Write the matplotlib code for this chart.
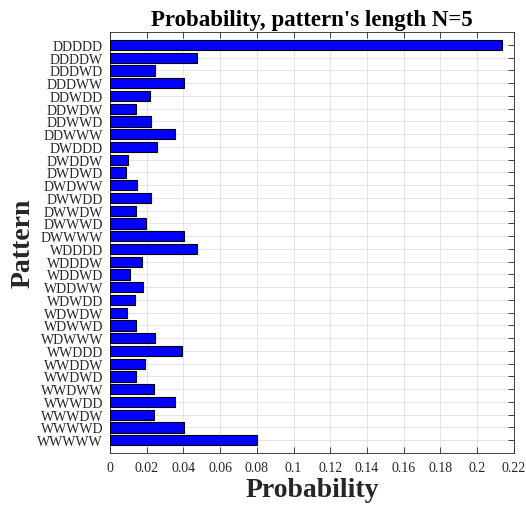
import numpy as np
import matplotlib
matplotlib.use("Agg")
import matplotlib.pyplot as plt

# --- Data ---
patterns = ["DDDDD", "DDDDW", "DDDWD", "DDDWW", "DDWDD", "DDWDW", "DDWWD", "DDWWW",
            "DWDDD", "DWDDW", "DWDWD", "DWDWW", "DWWDD", "DWWDW", "DWWWD", "DWWWW",
            "WDDDD", "WDDDW", "WDDWD", "WDDWW", "WDWDD", "WDWDW", "WDWWD", "WDWWW",
            "WWDDD", "WWDDW", "WWDWD", "WWDWW", "WWWDD", "WWWDW", "WWWWD", "WWWWW"]
probability = [0.2137, 0.0473, 0.0247, 0.0402, 0.0216, 0.0140, 0.0225, 0.0353,
               0.0256, 0.0096, 0.0087, 0.0145, 0.0225, 0.0140, 0.0196, 0.0401,
               0.0473, 0.0173, 0.0109, 0.0178, 0.0136, 0.0091, 0.0140, 0.0244,
               0.0391, 0.0189, 0.0140, 0.0238, 0.0355, 0.0240, 0.0401, 0.0800]
xticks = [0, 0.02, 0.04, 0.06, 0.08, 0.1, 0.12, 0.14, 0.16, 0.18, 0.2, 0.22]
xtick_labels = ["0", "0.02", "0.04", "0.06", "0.08", "0.1", "0.12", "0.14",
                "0.16", "0.18", "0.2", "0.22"]

plt.rcParams["font.family"] = ["Liberation Serif", "DejaVu Serif"]

fig = plt.figure(figsize=(5.26, 5.10), dpi=100)
ax = fig.add_axes([0.209, 0.110, 0.768, 0.825])

pos = np.arange(1, len(patterns) + 1)
ax.barh(pos, probability, height=0.8, color="#0000ff", edgecolor="black",
        linewidth=0.8, zorder=3)

ax.set_ylim(33, 0)
ax.set_xlim(0, 0.22)
ax.set_yticks(pos)
ax.set_yticklabels(patterns)
ax.set_xticks(xticks)
ax.set_xticklabels(xtick_labels)

ax.tick_params(axis="both", direction="in", top=True, right=True,
               labelsize=10, colors="#262626", length=4, width=0.6, pad=6)
ax.tick_params(axis="y", pad=5)
ax.grid(True, color="#e0e0e0", linewidth=0.6, zorder=0)
for s in ax.spines.values():
    s.set_color("#262626")
    s.set_linewidth(0.6)

ax.set_title("Probability, pattern's length N=5", fontsize=16.5, fontweight="bold",
             pad=5)
ax.set_xlabel("Probability", fontsize=20, fontweight="bold", color="#262626",
              labelpad=2)
ax.set_ylabel("Pattern", fontsize=20, fontweight="bold", color="#262626",
              labelpad=1)

plt.savefig("out.png", dpi=100)
